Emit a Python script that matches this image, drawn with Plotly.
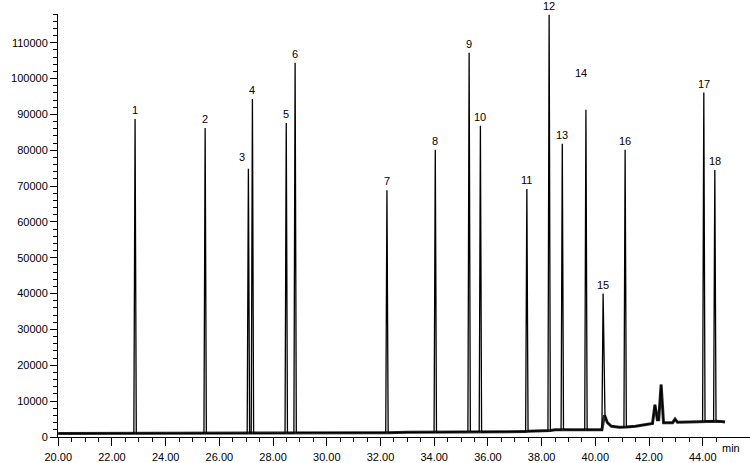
import plotly.graph_objects as go

# numbered peaks: retention time (min), apex height, baseline at left/right foot
peak_labels = ["1", "2", "3", "4", "5", "6", "7", "8", "9", "10",
               "11", "12", "13", "14", "15", "16", "17", "18"]
peak_rt = [22.86, 25.47, 27.08, 27.23, 28.49, 28.82, 32.24, 34.04, 35.30,
           35.72, 37.45, 38.28, 38.77, 39.65, 40.29, 41.11, 44.04, 44.45]
peak_height = [88700, 86200, 74800, 94300, 87600, 104400, 68800, 80100, 107200,
               86800, 69200, 117800, 81800, 91300, 40000, 80100, 96100, 74500]
peak_foot_left = [1000, 1000, 1000, 1000, 1100, 1100, 1200, 1300, 1500,
                  1500, 1500, 1700, 2000, 2000, 2000, 2700, 4300, 4400]
peak_foot_right = [1000, 1000, 1000, 1000, 1100, 1200, 1200, 1300, 1500,
                   1400, 1600, 1800, 2100, 2000, 6000, 2800, 4400, 4400]

# small unnumbered peaks near the end of the run
minor_rt = [42.22, 42.45, 42.97]
minor_height = [9000, 14600, 5000]
minor_foot_left = [3800, 4800, 4000]
minor_foot_right = [4800, 4000, 4100]

# baseline level between peaks (incl. tail of peak 15)
base_t = [20.0, 21.5, 24.0, 26.3, 27.8, 29.5, 31.0, 33.0, 34.6, 35.5, 36.5,
          38.0, 38.5, 39.2, 40.0, 40.36, 40.45, 40.6, 40.9, 41.5, 42.0,
          42.7, 43.5, 44.25, 44.7, 44.83]
base_y = [1000, 1000, 1000, 1000, 1100, 1200, 1200, 1300, 1400, 1500, 1500,
          1700, 2000, 2000, 2000, 5800, 4000, 3000, 2700, 3000, 3800,
          4000, 4200, 4400, 4300, 4200]

x_ticks = [20, 22, 24, 26, 28, 30, 32, 34, 36, 38, 40, 42, 44]
x_minor = [20 + 0.5 * i for i in range(50)]

# ---- assemble trace points ----
HW = 0.045      # half width of the numbered peaks at base
HW_MINOR = 0.09

pts = list(zip(base_t, base_y))
for rt, h, fl, fr in zip(peak_rt, peak_height, peak_foot_left, peak_foot_right):
    pts += [(rt - HW, fl), (rt, h), (rt + HW, fr)]
for rt, h, fl, fr in zip(minor_rt, minor_height, minor_foot_left, minor_foot_right):
    pts += [(rt - HW_MINOR, fl), (rt, h), (rt + HW_MINOR, fr)]
pts.sort()
sig_x = [p[0] for p in pts]
sig_y = [p[1] for p in pts]

# baseline only (no apexes) - drawn thick to stand in for detector noise
apex = set(peak_rt)
bl = [p for p in pts if p[0] not in apex]

FONT = "Liberation Sans, Arial, sans-serif"

fig = go.Figure()
fig.add_trace(go.Scatter(x=[p[0] for p in bl], y=[p[1] for p in bl], mode="lines",
                         line=dict(color="#2a2a2a", width=3), hoverinfo="skip"))
fig.add_trace(go.Scatter(x=sig_x, y=sig_y, mode="lines",
                         line=dict(color="black", width=1.3)))

for lab, rt, h in zip(peak_labels, peak_rt, peak_height):
    xs, ys = 0, 9
    if lab == "3":
        xs, ys = -6, 12
    if lab == "14":
        xs, ys = -5, 37
    fig.add_annotation(x=rt, y=h, text=lab, showarrow=False, xshift=xs, yshift=ys,
                       font=dict(family=FONT, size=11, color="#000000"))

fig.add_annotation(x=0.988, y=-0.045, xref="paper", yref="paper", text="min",
                   showarrow=False, font=dict(family=FONT, size=11, color="#000000"))

fig.update_layout(
    width=750, height=463,
    margin=dict(l=58, r=0, t=14, b=26),
    paper_bgcolor="white", plot_bgcolor="white",
    showlegend=False,
    font=dict(family=FONT, size=11, color="black"),
)
fig.update_xaxes(
    range=[19.99, 45.76], showgrid=False, zeroline=False, automargin=False,
    showline=True, linecolor="black", linewidth=1,
    tickmode="array", tickvals=x_ticks, tickformat=".2f",
    ticks="outside", ticklen=8, tickcolor="black", tickwidth=1,
    ticklabelstandoff=2,
    minor=dict(tickmode="array", tickvals=x_minor, ticks="outside",
               ticklen=4, tickcolor="black"),
)
fig.update_yaxes(
    range=[0, 118000], showgrid=False, zeroline=False, automargin=False,
    showline=True, linecolor="black", linewidth=1,
    tickmode="linear", tick0=0, dtick=10000, tickformat="d",
    ticks="outside", ticklen=7, tickcolor="black", tickwidth=1,
    minor=dict(dtick=2000, ticks="outside", ticklen=4, tickcolor="black"),
)

# drop the default page margin so the figure fills the window exactly
fig.write_html("out.html", config={"displayModeBar": False},
               post_script="document.body.style.margin = '0';")
